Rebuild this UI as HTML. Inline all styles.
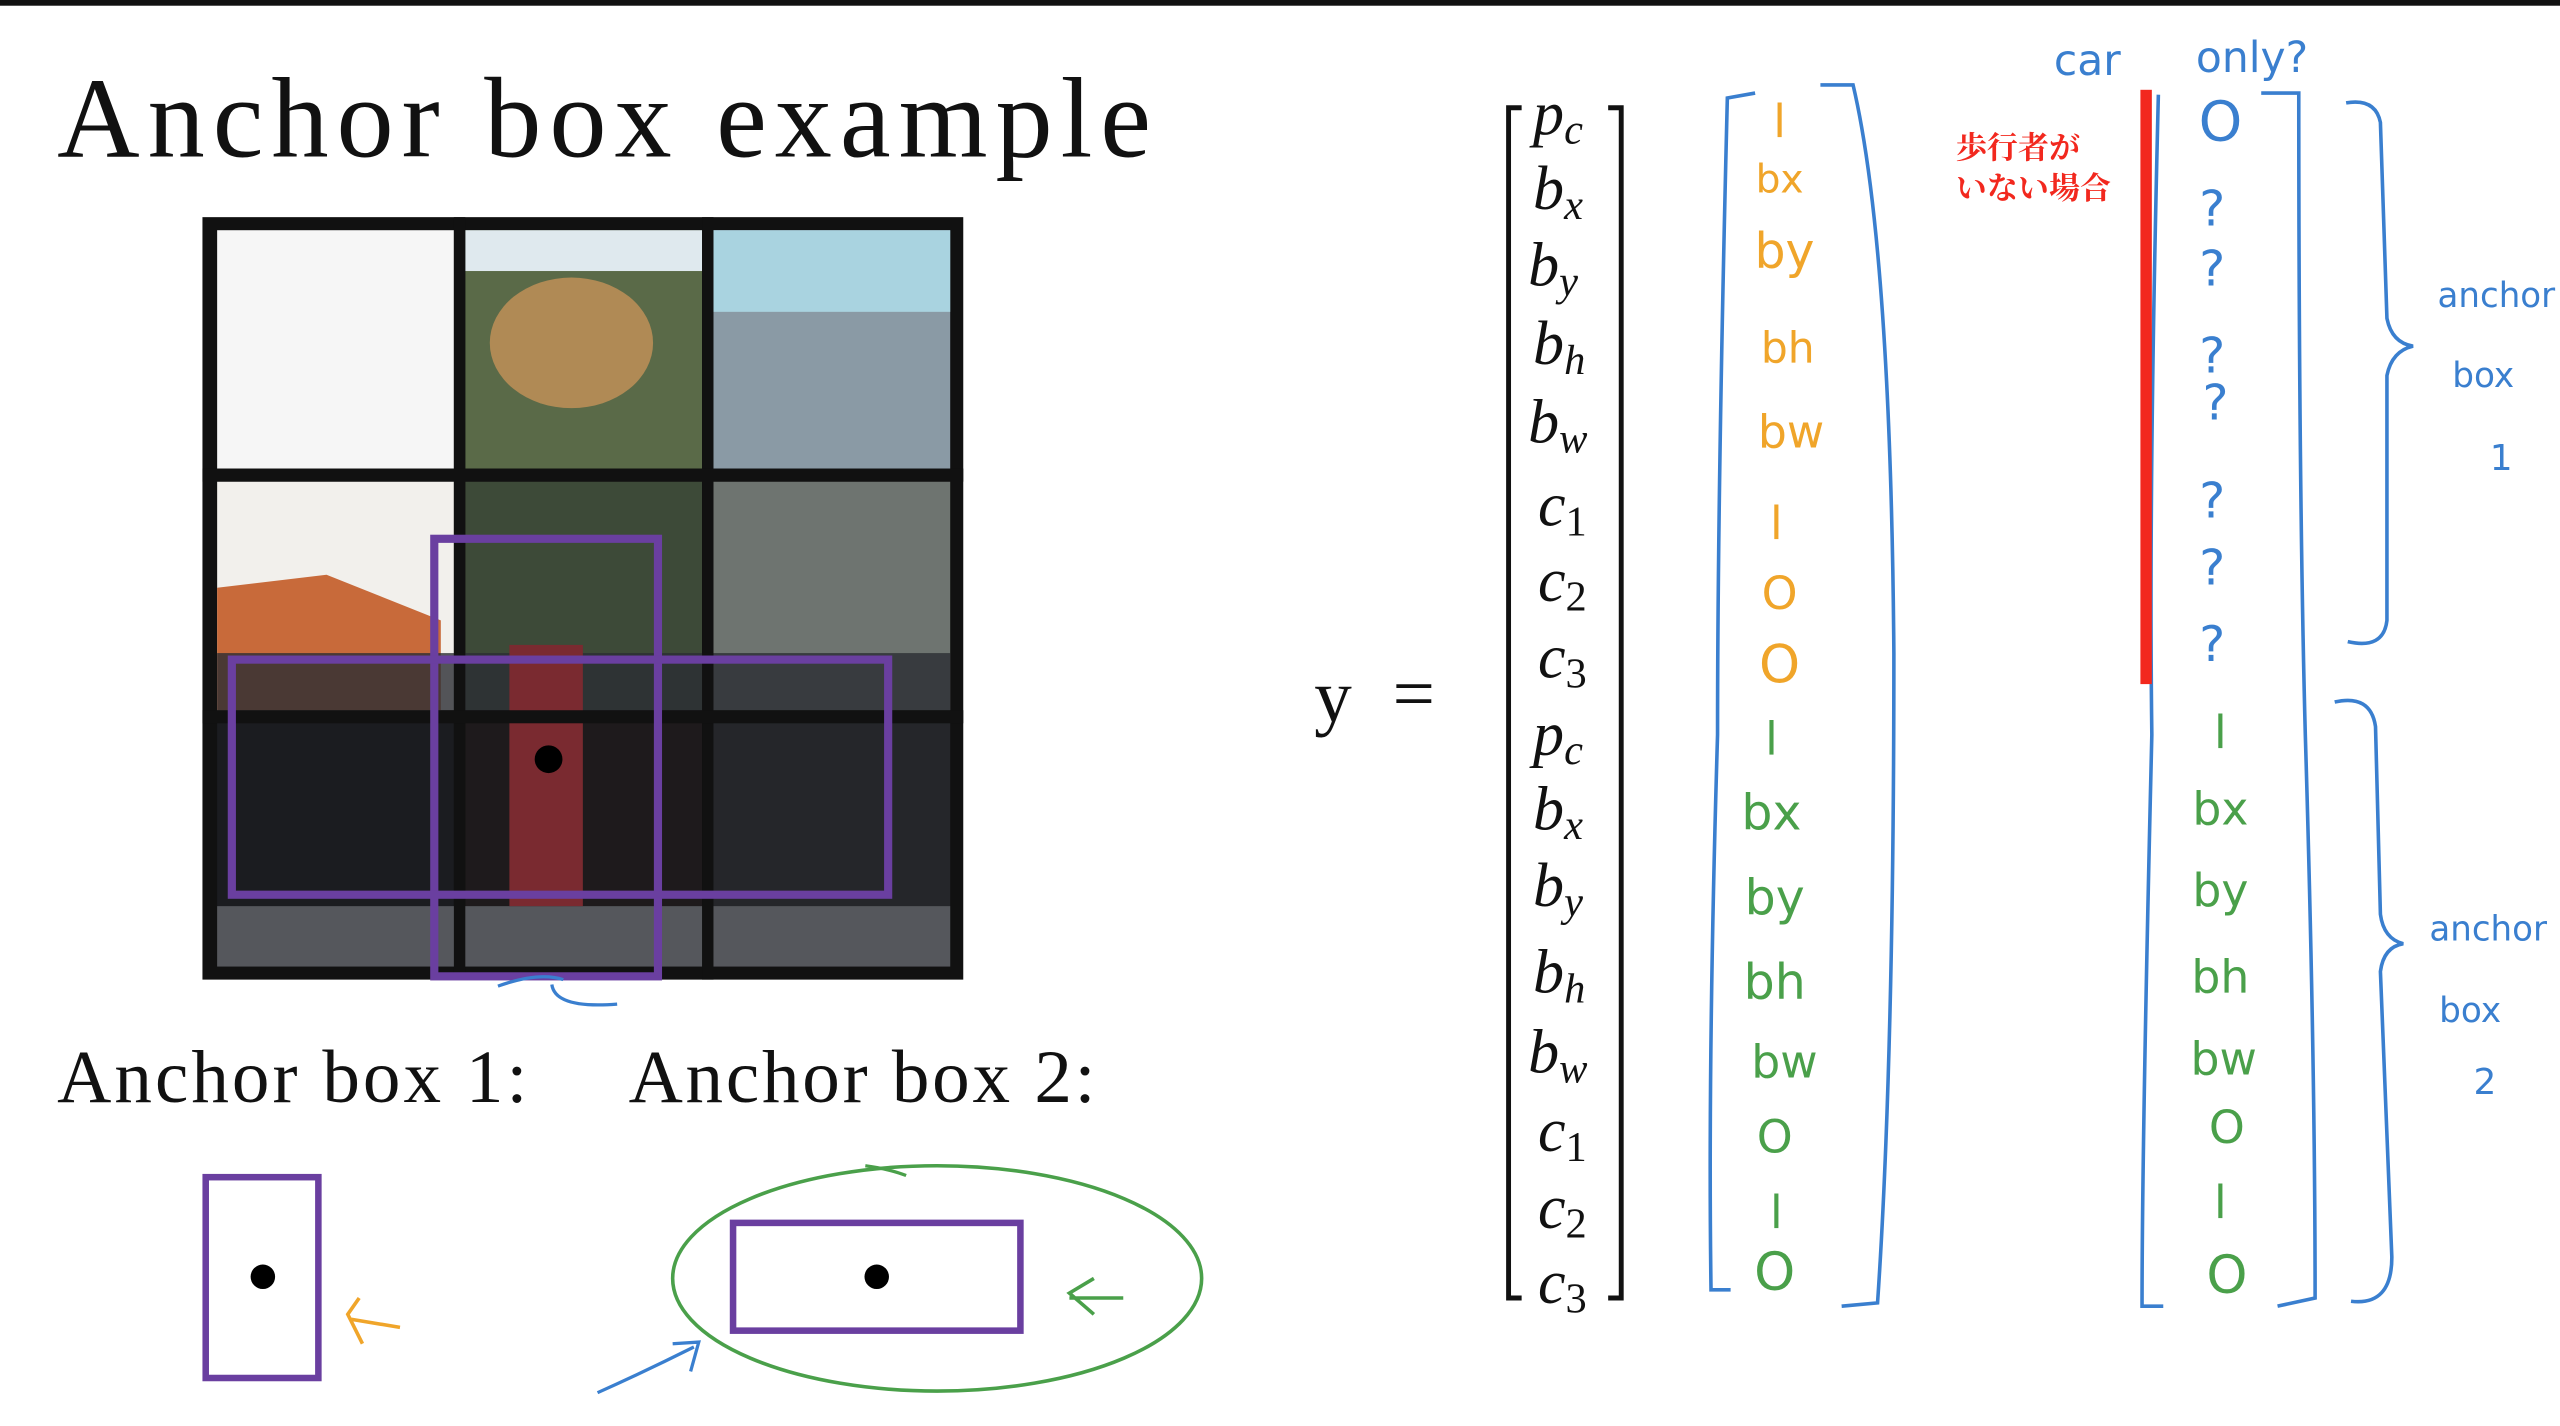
<!DOCTYPE html>
<html><head><meta charset="utf-8"><style>
html,body{margin:0;padding:0;background:#fff;}
svg{display:block;}
.hw{font-family:"DejaVu Sans","Liberation Sans",sans-serif;}
.m{font-family:"Liberation Serif",serif;font-style:italic;font-size:38px;fill:#111;}
</style></head><body>
<svg width="2560" height="1426" viewBox="0 0 1568 873.4" preserveAspectRatio="none" xmlns="http://www.w3.org/2000/svg">
<rect width="1568" height="873.4" fill="#fff"/>
<rect width="1568" height="3.5" fill="#111"/>
<text x="35" y="96" font-family="Liberation Serif,serif" font-size="70" fill="#111" textLength="670" lengthAdjust="spacing">Anchor box example</text>

<rect x="124" y="133" width="466" height="467" fill="#111"/>
<rect x="133" y="141" width="145" height="146" fill="#f6f6f6"/>
<rect x="285" y="141" width="145" height="146" fill="#5a6a48"/>
<ellipse cx="350" cy="210" rx="50" ry="40" fill="#b08a55"/>
<rect x="285" y="141" width="145" height="25" fill="#dfe9ee"/>
<rect x="437" y="141" width="145" height="146" fill="#8a9aa5"/>
<rect x="437" y="141" width="145" height="50" fill="#a9d3e0"/>
<rect x="133" y="295" width="145" height="140" fill="#f2f0ec"/>
<polygon points="133,360 200,352 270,380 270,435 133,435" fill="#c86a3a"/>
<rect x="285" y="295" width="145" height="140" fill="#3d4a38"/>
<rect x="437" y="295" width="145" height="140" fill="#6e7470"/>
<rect x="133" y="442" width="145" height="150" fill="#1b1c20"/>
<rect x="285" y="442" width="145" height="150" fill="#1e1a1c"/>
<rect x="437" y="442" width="145" height="150" fill="#25262a"/>
<rect x="133" y="400" width="449" height="40" fill="#2a2d33" opacity="0.8"/>
<rect x="133" y="555" width="449" height="37" fill="#55575c"/>
<rect x="312" y="395" width="45" height="160" fill="#7a2a30"/>
<rect x="278" y="133" width="7" height="467" fill="#111"/>
<rect x="430" y="133" width="7" height="467" fill="#111"/>
<rect x="124" y="287" width="466" height="8" fill="#111"/>
<rect x="124" y="435" width="466" height="8" fill="#111"/>
<rect x="266" y="330" width="137" height="268" fill="none" stroke="#6a3fa0" stroke-width="5"/>
<rect x="142" y="404" width="402" height="144" fill="none" stroke="#6a3fa0" stroke-width="5"/>
<circle cx="336" cy="465" r="8.5" fill="#000"/>
<path d="M305 604 Q330 595 345 600 M338 603 Q340 618 378 615" stroke="#3a7fcf" stroke-width="2" fill="none"/>

<text x="35" y="675" font-family="Liberation Serif,serif" font-size="46" fill="#111" textLength="288" lengthAdjust="spacing">Anchor box 1:</text>
<text x="385" y="675" font-family="Liberation Serif,serif" font-size="46" fill="#111" textLength="286" lengthAdjust="spacing">Anchor box 2:</text>
<rect x="126" y="721" width="69" height="123" fill="none" stroke="#6a3fa0" stroke-width="4"/>
<circle cx="161" cy="782" r="7.5" fill="#000"/>
<rect x="449" y="749" width="176" height="66" fill="none" stroke="#6a3fa0" stroke-width="4"/>
<circle cx="537" cy="782" r="7.5" fill="#000"/>
<ellipse cx="574" cy="783" rx="162" ry="69" fill="none" stroke="#4aa04a" stroke-width="2.2"/>
<path d="M530 714 Q545 716 555 720" stroke="#4aa04a" stroke-width="2" fill="none"/>
<path d="M688 795 L655 795 M670 783 L655 792 L670 805" stroke="#4aa04a" stroke-width="2.2" fill="none"/>
<path d="M245 813 L215 808 M220 795 L213 805 L222 823" stroke="#f0a52a" stroke-width="2.2" fill="none"/>
<path d="M366 853 Q395 840 425 825 M412 823 L428 822 L423 840" stroke="#3a7fcf" stroke-width="2" fill="none"/>

<text x="805" y="442" font-family="Liberation Serif,serif" font-size="46" fill="#111">y</text>
<text x="853" y="440" font-family="Liberation Serif,serif" font-size="46" fill="#111">=</text>
<path d="M932 66 L924 66 L924 795 L932 795 M985 66 L993 66 L993 795 L985 795" stroke="#111" stroke-width="3" fill="none"/>
<g class="m">
<text x="939" y="82">p<tspan font-size="26" dy="6">c</tspan></text>
<text x="939" y="128">b<tspan font-size="26" dy="6">x</tspan></text>
<text x="936" y="175">b<tspan font-size="26" dy="6">y</tspan></text>
<text x="939" y="223">b<tspan font-size="26" dy="6">h</tspan></text>
<text x="936" y="271">b<tspan font-size="26" dy="6">w</tspan></text>
<text x="942" y="322">c<tspan font-size="26" dy="6" font-style="normal">1</tspan></text>
<text x="942" y="368">c<tspan font-size="26" dy="6" font-style="normal">2</tspan></text>
<text x="942" y="415">c<tspan font-size="26" dy="6" font-style="normal">3</tspan></text>
<text x="939" y="462">p<tspan font-size="26" dy="6">c</tspan></text>
<text x="939" y="508">b<tspan font-size="26" dy="6">x</tspan></text>
<text x="939" y="555">b<tspan font-size="26" dy="6">y</tspan></text>
<text x="939" y="608">b<tspan font-size="26" dy="6">h</tspan></text>
<text x="936" y="657">b<tspan font-size="26" dy="6">w</tspan></text>
<text x="942" y="705">c<tspan font-size="26" dy="6" font-style="normal">1</tspan></text>
<text x="942" y="752">c<tspan font-size="26" dy="6" font-style="normal">2</tspan></text>
<text x="942" y="798">c<tspan font-size="26" dy="6" font-style="normal">3</tspan></text>
</g>

<g stroke="#3a7fcf" stroke-width="2.2" fill="none">
<path d="M1075 57 L1058 60 Q1052 300 1052 450 Q1046 650 1048 790 L1060 790"/>
<path d="M1115 52 L1135 52 Q1158 150 1160 400 Q1160 650 1150 798 L1128 800"/>
<path d="M1322 58 Q1316 300 1318 450 Q1312 700 1312 800 L1325 800"/>
<path d="M1385 57 L1408 57 Q1408 300 1412 450 Q1418 650 1418 795 L1395 800"/>
<path d="M1437 63 Q1455 60 1458 75 L1462 195 Q1465 210 1478 212 Q1465 215 1462 230 L1462 380 Q1460 398 1438 393"/>
<path d="M1430 430 Q1452 425 1455 445 L1458 560 Q1460 575 1472 578 Q1460 580 1458 595 L1465 770 Q1465 800 1440 797"/>
</g>
<rect x="1311" y="55" width="7" height="364" fill="#f2281e"/>
<text x="1198" y="97" font-family="Liberation Serif,'Noto Serif CJK SC',serif" font-weight="bold" font-size="19" fill="#f2281e">歩行者が</text>
<text x="1198" y="122" font-family="Liberation Serif,'Noto Serif CJK SC',serif" font-weight="bold" font-size="19" fill="#f2281e">いない場合</text>

<g class="hw" font-size="28" fill="#f0a52a" text-anchor="middle">
<text x="1090" y="84">l</text>
<text x="1090" y="118" font-size="24">bx</text>
<text x="1093" y="164" font-size="30">by</text>
<text x="1095" y="222" font-size="26">bh</text>
<text x="1097" y="274" font-size="28">bw</text>
<text x="1088" y="330">l</text>
<text x="1090" y="373">O</text>
<text x="1090" y="418" font-size="32">O</text>
</g>
<g class="hw" font-size="28" fill="#4aa04a" text-anchor="middle">
<text x="1085" y="462">l</text>
<text x="1085" y="508" font-size="30">bx</text>
<text x="1087" y="560" font-size="30">by</text>
<text x="1087" y="612" font-size="30">bh</text>
<text x="1093" y="660" font-size="28">bw</text>
<text x="1087" y="706">O</text>
<text x="1088" y="752">l</text>
<text x="1087" y="790" font-size="32">O</text>
<text x="1360" y="458">l</text>
<text x="1360" y="505" font-size="28">bx</text>
<text x="1360" y="555" font-size="28">by</text>
<text x="1360" y="608" font-size="28">bh</text>
<text x="1362" y="658" font-size="28">bw</text>
<text x="1364" y="700">O</text>
<text x="1360" y="746">l</text>
<text x="1364" y="792" font-size="32">O</text>
</g>
<g class="hw" font-size="30" fill="#3a7fcf" text-anchor="middle">
<text x="1360" y="86" font-size="34">O</text>
<text x="1355" y="138">?</text>
<text x="1355" y="175">?</text>
<text x="1355" y="228">?</text>
<text x="1357" y="257">?</text>
<text x="1355" y="317">?</text>
<text x="1355" y="358">?</text>
<text x="1355" y="405">?</text>
</g>
<g class="hw" fill="#3a7fcf" font-size="26">
<text x="1258" y="46">car</text>
<text x="1345" y="44">only?</text>
<text x="1493" y="188" font-size="21" textLength="72" lengthAdjust="spacingAndGlyphs">anchor</text>
<text x="1502" y="237" font-size="21">box</text>
<text x="1525" y="288" font-size="22">1</text>
<text x="1488" y="576" font-size="21" textLength="72" lengthAdjust="spacingAndGlyphs">anchor</text>
<text x="1494" y="626" font-size="21">box</text>
<text x="1515" y="670" font-size="22">2</text>
</g>
</svg>
</body></html>
